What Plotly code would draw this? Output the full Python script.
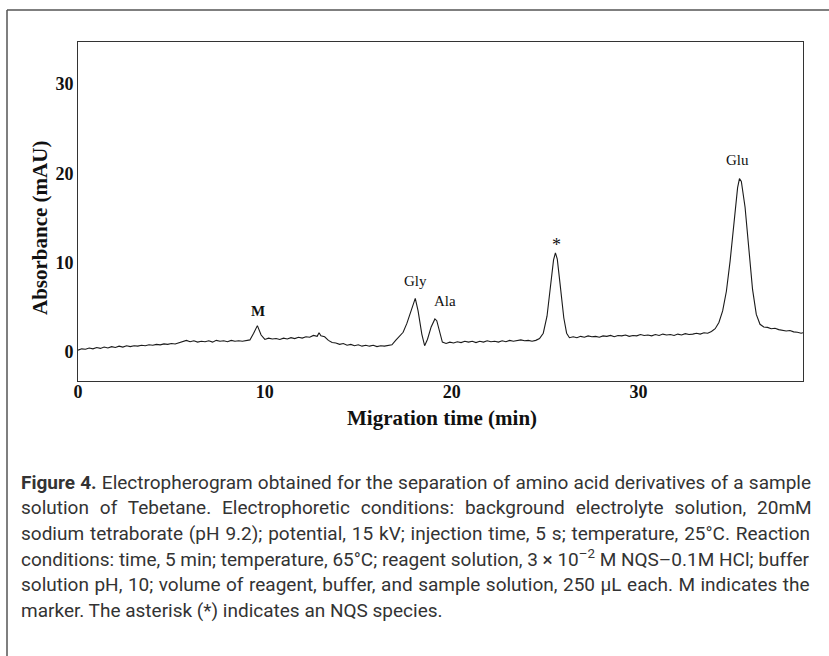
import plotly.graph_objects as go

# ---------------- data ----------------
time_min = [
    0.0, 0.2, 0.4, 0.6, 0.8, 1.0, 1.2, 1.4, 1.6, 1.8, 2.0, 2.2, 2.4, 2.6, 2.8,
    3.0, 3.2, 3.4, 3.6, 3.8, 4.0, 4.2, 4.4, 4.6, 4.8, 5.0, 5.2, 5.4, 5.6, 5.8,
    6.0, 6.2, 6.4, 6.6, 6.8, 7.0, 7.2, 7.4, 7.6, 7.8, 8.0, 8.2, 8.4, 8.6, 8.8,
    9.0, 9.2, 9.4, 9.6, 9.8, 10.0, 10.2, 10.4, 10.6, 10.8, 11.0, 11.2, 11.4,
    11.6, 11.8, 12.0, 12.2, 12.4, 12.6, 12.8, 12.9, 13.0, 13.2, 13.4, 13.6,
    13.8, 14.0, 14.2, 14.4, 14.6, 14.8, 15.0, 15.2, 15.4, 15.6, 15.8, 16.0,
    16.2, 16.4, 16.6, 16.8, 17.0, 17.2, 17.4, 17.6, 17.8, 18.0, 18.05, 18.2,
    18.4, 18.55, 18.7, 18.9, 19.1, 19.2, 19.35, 19.5, 19.7, 19.9, 20.1, 20.3,
    20.5, 20.7, 20.9, 21.1, 21.3, 21.5, 21.7, 21.9, 22.1, 22.3, 22.5, 22.7,
    22.9, 23.1, 23.3, 23.5, 23.7, 23.9, 24.1, 24.3, 24.5, 24.7, 24.9, 25.1,
    25.3, 25.45, 25.55, 25.65, 25.8, 26.0, 26.15, 26.3, 26.5, 26.7, 26.9,
    27.1, 27.3, 27.5, 27.7, 27.9, 28.1, 28.3, 28.5, 28.7, 28.9, 29.1, 29.3,
    29.5, 29.7, 29.9, 30.1, 30.3, 30.5, 30.7, 30.9, 31.1, 31.3, 31.5, 31.7,
    31.9, 32.1, 32.3, 32.5, 32.7, 32.9, 33.1, 33.3, 33.5, 33.7, 33.9, 34.1,
    34.3, 34.5, 34.7, 34.9, 35.1, 35.3, 35.4, 35.5, 35.7, 35.9, 36.1, 36.3,
    36.5, 36.7, 36.9, 37.1, 37.3, 37.5, 37.7, 37.9, 38.1, 38.3, 38.5, 38.7,
    38.8,
]
absorbance_mau = [
    0.2, 0.35, 0.3, 0.45, 0.35, 0.5, 0.4, 0.55, 0.45, 0.6, 0.5, 0.65, 0.55, 0.7, 0.6,
    0.7, 0.65, 0.75, 0.7, 0.8, 0.75, 0.85, 0.8, 0.9, 0.85, 0.95, 0.9, 1.05, 1.2, 1.3,
    1.15, 1.25, 1.1, 1.2, 1.15, 1.25, 1.1, 1.3, 1.2, 1.25, 1.15, 1.3, 1.2, 1.25, 1.2,
    1.3, 1.35, 2.1, 2.95, 1.9, 1.4, 1.55, 1.45, 1.5, 1.4, 1.55, 1.45, 1.6,
    1.5, 1.65, 1.55, 1.7, 1.65, 1.85, 1.75, 2.15, 1.8, 1.7, 1.3, 1.05,
    1.0, 0.85, 0.95, 0.75, 0.85, 0.7, 0.8, 0.65, 0.75, 0.65, 0.75, 0.6,
    0.7, 0.65, 0.75, 0.8, 1.3, 1.7, 2.2, 3.2, 4.5, 5.8, 6.0, 4.6,
    2.0, 0.7, 1.4, 2.8, 3.7, 3.5, 2.2, 1.1, 0.95, 1.1, 1.0, 1.15,
    1.05, 1.2, 1.1, 1.2, 1.05, 1.2, 1.1, 1.25, 1.15, 1.2, 1.1, 1.25,
    1.15, 1.3, 1.2, 1.25, 1.35, 1.25, 1.3, 1.2, 1.3, 1.5, 2.1, 4.0,
    7.6, 10.3, 11.1, 10.4, 7.6, 3.8, 2.1, 1.6, 1.7, 1.6, 1.75,
    1.65, 1.8, 1.7, 1.75, 1.65, 1.8, 1.75, 1.85, 1.7, 1.85, 1.8, 1.9,
    1.75, 1.85, 1.8, 1.95, 1.85, 1.9, 1.8, 1.95, 1.85, 2.0, 1.9, 1.95,
    1.85, 2.0, 1.9, 2.05, 1.95, 2.0, 2.1, 2.0, 2.15, 2.1, 2.3, 2.6,
    3.3, 4.6, 6.8, 10.2, 14.6, 18.4, 19.4, 19.1, 16.2, 11.4, 7.0, 4.2,
    3.1, 2.8, 2.75, 2.6, 2.65, 2.5, 2.45, 2.35, 2.4, 2.25, 2.2, 2.1,
    2.15,
]

peak_names = ["M", "Gly", "Ala", "*", "Glu"]
peak_times = [9.6, 18.05, 19.1, 25.55, 35.4]

x_ticks = [0, 10, 20, 30]
y_ticks = [0, 10, 20, 30]

x_title = "Migration time (min)"
y_title = "Absorbance (mAU)"

caption_lines = [
    "<b>Figure 4.</b> Electropherogram obtained for the separation of amino acid derivatives of a sample",
    "solution of Tebetane. Electrophoretic conditions: background electrolyte solution, 20mM",
    "sodium tetraborate (pH 9.2); potential, 15 kV; injection time, 5 s; temperature, 25°C. Reaction",
    "conditions: time, 5 min; temperature, 65°C; reagent solution, 3 × 10<sup>–2</sup> M NQS–0.1M HCl; buffer",
    "solution pH, 10; volume of reagent, buffer, and sample solution, 250 µL each. M indicates the",
    "marker. The asterisk (*) indicates an NQS species.",
]

# ---------------- layout geometry (pixels) ----------------
W, H = 829, 656
L, R, T, B = 78, 803, 42, 381


def px(x):
    return (x - L) / (R - L)


def py(y):
    return (B - y) / (B - T)


SERIF = "Liberation Serif, Times New Roman, serif"
SANS_C = "Roboto, sans-serif"
# extra word spacing (px) to imitate the justified caption
word_gap = [0.5, 6.2, 1.1, 0.0, 0.8, 0.0]

fig = go.Figure()
fig.add_trace(go.Scatter(
    x=time_min, y=absorbance_mau, mode="lines",
    line=dict(color="#1a1a1a", width=1.1),
    hoverinfo="skip", showlegend=False,
))

annotations = []
# peak labels anchored to the trace
label_style = {
    "M":   dict(xshift=1,  yshift=15, size=15, bold=True),
    "Gly": dict(xshift=0,  yshift=17, size=15, bold=False),
    "Ala": dict(xshift=10, yshift=18, size=15, bold=False),
    "*":   dict(xshift=1,  yshift=8,  size=18, bold=False),
    "Glu": dict(xshift=-2, yshift=19, size=15, bold=False),
}
for name, t in zip(peak_names, peak_times):
    i = min(range(len(time_min)), key=lambda k: abs(time_min[k] - t))
    st = label_style[name]
    annotations.append(dict(
        x=time_min[i], y=absorbance_mau[i], xref="x", yref="y",
        text=f"<b>{name}</b>" if st["bold"] else name,
        showarrow=False, xanchor="center", yanchor="middle",
        xshift=st["xshift"], yshift=st["yshift"],
        font=dict(family=SERIF, size=st["size"], color="#111"),
    ))

# axis titles
annotations.append(dict(
    x=px(442), y=py(418), xref="paper", yref="paper", text=f"<b>{x_title}</b>",
    showarrow=False, xanchor="center", yanchor="middle",
    font=dict(family=SERIF, size=21, color="#111"),
))
annotations.append(dict(
    x=px(40), y=py(228), xref="paper", yref="paper", text=f"<b>{y_title}</b>",
    showarrow=False, xanchor="center", yanchor="middle", textangle=-90,
    font=dict(family=SERIF, size=21, color="#111"),
))

# caption
for k, line in enumerate(caption_lines):
    annotations.append(dict(
        x=px(19), y=py(482 + 25.6 * k), xref="paper", yref="paper",
        text=f'<span style="word-spacing:{word_gap[k]}px">{line}</span>',
        showarrow=False, xanchor="left", yanchor="middle", align="left",
        font=dict(family=SANS_C, size=19, color="#333"),
    ))

shapes = [
    # outer figure border (top and left visible)
    dict(type="line", xref="paper", yref="paper",
         x0=px(7), y0=py(10), x1=px(840), y1=py(10),
         line=dict(color="#555", width=1.5)),
    dict(type="line", xref="paper", yref="paper",
         x0=px(7), y0=py(10), x1=px(7), y1=py(670),
         line=dict(color="#555", width=1.5)),
]

fig.update_layout(
    width=W, height=H,
    margin=dict(l=L, r=W - R, t=T, b=H - B, pad=0),
    paper_bgcolor="white", plot_bgcolor="white",
    annotations=annotations, shapes=shapes,
    xaxis=dict(
        range=[0, 38.8], tickvals=x_ticks, ticktext=[str(v) for v in x_ticks],
        showgrid=False, zeroline=False, showline=True, mirror=True,
        linecolor="#333", linewidth=1, ticks="",
        tickfont=dict(family=SERIF, size=18, color="#111", weight="bold"),
        ticklabelstandoff=-6,
    ),
    yaxis=dict(
        range=[-3.25, 34.7], tickvals=y_ticks, ticktext=[str(v) for v in y_ticks],
        showgrid=False, zeroline=False, showline=True, mirror=True,
        linecolor="#333", linewidth=1, ticks="",
        tickfont=dict(family=SERIF, size=18, color="#111", weight="bold"),
        ticklabelstandoff=0,
    ),
)

fig.write_html("out.html")
